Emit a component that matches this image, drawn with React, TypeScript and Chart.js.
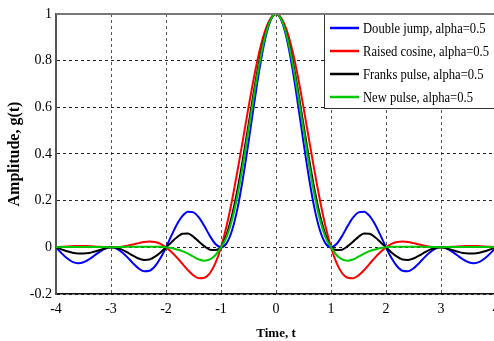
import React, { useEffect, useRef } from "react";
import { Chart, registerables } from "chart.js";

Chart.register(...registerables);

const times = [
  -4, -3.9, -3.8, -3.7, -3.6, -3.5, -3.4, -3.3, -3.2, -3.1,
  -3, -2.9, -2.8, -2.7, -2.6, -2.5, -2.4, -2.3, -2.2, -2.1,
  -2, -1.9, -1.8, -1.7, -1.6, -1.5, -1.4, -1.3, -1.2, -1.1,
  -1, -0.9, -0.8, -0.7, -0.6, -0.5, -0.4, -0.3, -0.2, -0.1,
  0, 0.1, 0.2, 0.3, 0.4, 0.5, 0.6, 0.7, 0.8, 0.9,
  1, 1.1, 1.2, 1.3, 1.4, 1.5, 1.6, 1.7, 1.8, 1.9,
  2, 2.1, 2.2, 2.3, 2.4, 2.5, 2.6, 2.7, 2.8, 2.9,
  3, 3.1, 3.2, 3.3, 3.4, 3.5, 3.6, 3.7, 3.8, 3.9,
  4,
];

const doubleJump = [
  0, -0.025, -0.047, -0.062, -0.068, -0.064, -0.052, -0.035, -0.018, -0.005,
  0, -0.005, -0.021, -0.043, -0.068, -0.09, -0.102, -0.1, -0.081, -0.046,
  0, 0.051, 0.099, 0.135, 0.153, 0.15, 0.127, 0.09, 0.048, 0.014,
  0, 0.017, 0.072, 0.167, 0.297, 0.45, 0.612, 0.765, 0.89, 0.972,
  1, 0.972, 0.89, 0.765, 0.612, 0.45, 0.297, 0.167, 0.072, 0.017,
  0, 0.014, 0.048, 0.09, 0.127, 0.15, 0.153, 0.135, 0.099, 0.051,
  0, -0.046, -0.081, -0.1, -0.102, -0.09, -0.068, -0.043, -0.021, -0.005,
  0, -0.005, -0.018, -0.035, -0.052, -0.064, -0.068, -0.062, -0.047, -0.025,
  0,
];

const raisedCosine = [
  0, 0.002, 0.004, 0.005, 0.006, 0.006, 0.005, 0.004, 0.002, 0.001,
  0, 0.001, 0.003, 0.007, 0.012, 0.018, 0.023, 0.025, 0.023, 0.015,
  0, -0.02, -0.044, -0.071, -0.098, -0.12, -0.132, -0.13, -0.11, -0.067,
  0, 0.09, 0.201, 0.328, 0.463, 0.6, 0.729, 0.841, 0.927, 0.981,
  1, 0.981, 0.927, 0.841, 0.729, 0.6, 0.463, 0.328, 0.201, 0.09,
  0, -0.067, -0.11, -0.13, -0.132, -0.12, -0.098, -0.071, -0.044, -0.02,
  0, 0.015, 0.023, 0.025, 0.023, 0.018, 0.012, 0.007, 0.003, 0.001,
  0, 0.001, 0.002, 0.004, 0.005, 0.006, 0.006, 0.005, 0.004, 0.002,
  0,
];

const franksPulse = [
  0, -0.009, -0.017, -0.023, -0.026, -0.026, -0.024, -0.018, -0.011, -0.004,
  0, -0.003, -0.01, -0.022, -0.036, -0.048, -0.054, -0.052, -0.04, -0.022,
  0, 0.022, 0.043, 0.058, 0.059, 0.045, 0.024, 0.004, -0.01, -0.011,
  0, 0.054, 0.137, 0.247, 0.38, 0.525, 0.671, 0.803, 0.908, 0.976,
  1, 0.976, 0.908, 0.803, 0.671, 0.525, 0.38, 0.247, 0.137, 0.054,
  0, -0.011, -0.01, 0.004, 0.024, 0.045, 0.059, 0.058, 0.043, 0.022,
  0, -0.022, -0.04, -0.052, -0.054, -0.048, -0.036, -0.022, -0.01, -0.003,
  0, -0.004, -0.011, -0.018, -0.024, -0.026, -0.026, -0.023, -0.017, -0.009,
  0,
];

const newPulse = [
  0, 0.001, 0.001, 0.001, 0.001, 0.001, 0.001, 0.001, 0.001, 0.001,
  0, 0.001, 0.001, 0.002, 0.002, 0.003, 0.003, 0.003, 0.003, 0.002,
  0, -0.003, -0.009, -0.016, -0.027, -0.04, -0.052, -0.057, -0.052, -0.033,
  0, 0.043, 0.117, 0.223, 0.355, 0.503, 0.653, 0.791, 0.903, 0.975,
  1, 0.975, 0.903, 0.791, 0.653, 0.503, 0.355, 0.223, 0.117, 0.043,
  0, -0.033, -0.052, -0.057, -0.052, -0.04, -0.027, -0.016, -0.009, -0.003,
  0, 0.002, 0.003, 0.003, 0.003, 0.003, 0.002, 0.002, 0.001, 0.001,
  0, 0.001, 0.001, 0.001, 0.001, 0.001, 0.001, 0.001, 0.001, 0.001,
  0,
];

const seriesLabels = [
  "Double jump, alpha=0.5",
  "Raised cosine, alpha=0.5",
  "Franks pulse, alpha=0.5",
  "New pulse, alpha=0.5",
];
const seriesColors = ["#0000ff", "#ff0000", "#000000", "#00c800"];

const xTickValues = [-4, -3, -2, -1, 0, 1, 2, 3, 4];
const xTickLabels = ["-4", "-3", "-2", "-1", "0", "1", "2", "3", "4"];
const yTickValues = [-0.2, 0, 0.2, 0.4, 0.6, 0.8, 1];
const yTickLabels = ["-0.2", "0", "0.2", "0.4", "0.6", "0.8", "1"];

const xTitle = "Time, t";
const yTitle = "Amplitude, g(t)";

const SERIF = "'Liberation Serif', 'Times New Roman', serif";

const framePlugin = {
  id: "frameAndLegend",
  afterDatasetsDraw(chart: any) {
    const { ctx, chartArea } = chart;
    ctx.save();
    // top border
    ctx.strokeStyle = "#777777";
    ctx.lineWidth = 2;
    ctx.beginPath();
    ctx.moveTo(chartArea.left, chartArea.top);
    ctx.lineTo(chart.width, chartArea.top);
    ctx.stroke();

    // legend box
    const left = 324;
    const top = chartArea.top;
    const bottom = 108;
    ctx.fillStyle = "#ffffff";
    ctx.fillRect(left, top, chart.width - left, bottom - top);
    ctx.strokeStyle = "#333333";
    ctx.lineWidth = 1;
    ctx.strokeRect(left + 0.5, top + 0.5, chart.width - left + 5, bottom - top);
    ctx.strokeStyle = "#777777";
    ctx.lineWidth = 2;
    ctx.beginPath();
    ctx.moveTo(left, chartArea.top);
    ctx.lineTo(chart.width, chartArea.top);
    ctx.stroke();

    const rows = [28, 51, 74, 97];
    seriesLabels.forEach((label, i) => {
      const y = rows[i];
      ctx.strokeStyle = seriesColors[i];
      ctx.lineWidth = 2.5;
      ctx.beginPath();
      ctx.moveTo(330, y);
      ctx.lineTo(359, y);
      ctx.stroke();
      ctx.save();
      ctx.translate(363, y);
      ctx.scale(0.84, 1);
      ctx.fillStyle = "#000000";
      ctx.font = `15px ${SERIF}`;
      ctx.textBaseline = "middle";
      ctx.textAlign = "left";
      ctx.fillText(label, 0, 1);
      ctx.restore();
    });
    ctx.restore();
  },
};

export default function App() {
  const canvasRef = useRef<HTMLCanvasElement | null>(null);

  useEffect(() => {
    const canvas = canvasRef.current;
    if (!canvas) return;
    const series = [doubleJump, raisedCosine, franksPulse, newPulse];
    const chart = new Chart(canvas, {
      type: "line",
      data: {
        datasets: series.map((vals, i) => ({
          label: seriesLabels[i],
          data: times.map((t, k) => ({ x: t, y: vals[k] })),
          borderColor: seriesColors[i],
          backgroundColor: seriesColors[i],
          borderWidth: 2,
          pointRadius: 0,
          fill: false,
          cubicInterpolationMode: "monotone" as const,
          order: 3 - i,
        })),
      },
      options: {
        responsive: false,
        animation: false,
        devicePixelRatio: 1,
        layout: { padding: { left: 0, right: 24, top: 14, bottom: 0 } },
        plugins: {
          legend: { display: false },
          tooltip: { enabled: false },
        },
        scales: {
          x: {
            type: "linear",
            min: -4,
            max: 4,
            afterFit: (scale: any) => {
              scale.height = 47;
            },
            afterBuildTicks: (scale: any) => {
              scale.ticks = xTickValues.map((v) => ({ value: v }));
            },
            ticks: {
              padding: 7,
              color: "#000000",
              font: { family: SERIF, size: 14 },
              maxRotation: 0,
              callback: (value: any) => {
                const idx = xTickValues.indexOf(Number(value));
                return idx >= 0 ? xTickLabels[idx] : "";
              },
            },
            grid: {
              color: "#555555",
              lineWidth: 1,
              drawTicks: false,
            },
            border: {
              display: true,
              color: "#111111",
              width: 1.5,
              dash: [3, 3],
            },
            title: {
              display: true,
              text: xTitle,
              color: "#000000",
              font: { family: SERIF, size: 13, weight: "bold" },
              padding: { top: 0, bottom: 0 },
            },
          },
          y: {
            type: "linear",
            min: -0.2,
            max: 1,
            afterFit: (scale: any) => {
              scale.width = 56;
            },
            afterBuildTicks: (scale: any) => {
              scale.ticks = yTickValues.map((v) => ({ value: v }));
            },
            ticks: {
              padding: 4,
              color: "#000000",
              font: { family: SERIF, size: 14 },
              callback: (value: any) => {
                const idx = yTickValues.findIndex((v) => Math.abs(v - Number(value)) < 1e-6);
                return idx >= 0 ? yTickLabels[idx] : "";
              },
            },
            grid: {
              color: "#222222",
              lineWidth: 1,
              drawTicks: false,
            },
            border: {
              display: true,
              color: "#555555",
              width: 2,
              dash: [3, 3],
            },
            title: {
              display: true,
              text: yTitle,
              color: "#000000",
              font: { family: SERIF, size: 16, weight: "bold" },
              padding: { top: 5, bottom: 0 },
            },
          },
        },
      },
      plugins: [framePlugin],
    });
    return () => chart.destroy();
  }, []);

  return (
    <div style={{ position: "fixed", left: 0, top: 0, width: 520, height: 341, background: "#ffffff" }}>
      <canvas ref={canvasRef} width={520} height={341} style={{ display: "block" }} />
    </div>
  );
}
